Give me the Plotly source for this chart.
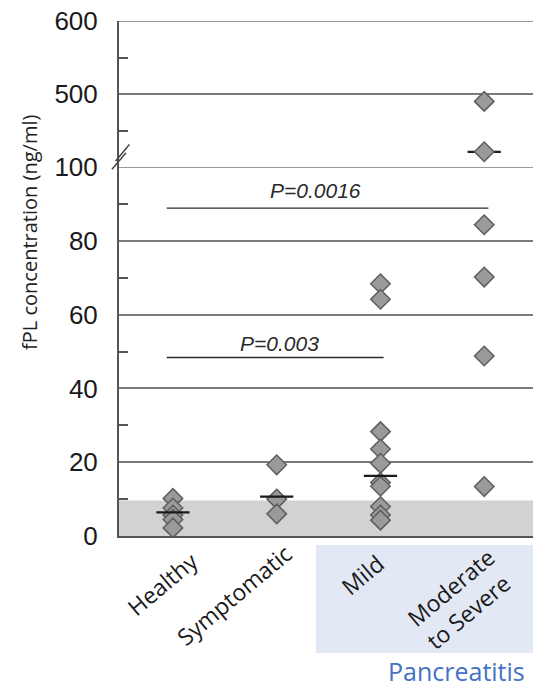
import plotly.graph_objects as go

# ---------------- data ----------------
categories = ["Healthy", "Symptomatic", "Mild", "Moderate<br>to Severe"]
healthy = [10.2, 7.6, 5.7, 4.5, 2.2]
symptomatic = [19.3, 10.0, 6.0]
mild = [68.4, 64.2, 28.3, 23.6, 19.7, 14.5, 13.5, 8.0, 5.7, 4.3]
moderate_low = [84.4, 70.2, 48.8, 13.4]
moderate_high = [490, 421]
medians_low = [6.4, 10.7, 16.3]
median_high = [421]
reference_upper = 9.6
p_labels = ["P=0.0016", "P=0.003"]
p_levels = [88.9, 48.4]
p_start = [-0.06, -0.06]
p_end = [3.04, 2.03]
p_text_x = [1.37, 1.03]
p_text_y = [93.8, 52.3]
low_ticks = [0, 20, 40, 60, 80, 100]
low_minor = [10, 30, 50, 70, 90]
high_ticks = [500, 600]
high_minor = [450, 550]
group_label = "Pancreatitis"
y_title = "fPL concentration (ng/ml)"

# ---------------- styles ----------------
DIAMOND = dict(symbol="diamond", size=15, color="#9a9a9a",
               line=dict(color="#5e5e5e", width=1.5))
GRID = "#7a7a7a"
AXIS = "#555555"
half = 0.16
dom_split = 0.7162

fig = go.Figure()

low_groups = [healthy, symptomatic, mild, moderate_low]
for i, vals in enumerate(low_groups):
    fig.add_trace(go.Scatter(x=[i] * len(vals), y=vals, mode="markers",
                             marker=DIAMOND, xaxis="x", yaxis="y",
                             showlegend=False, hoverinfo="y"))

# median bars
mx, my = [], []
for i, m in enumerate(medians_low):
    mx += [i - half, i + half, None]
    my += [m, m, None]
fig.add_trace(go.Scatter(x=mx, y=my, mode="lines",
                         line=dict(color="#1a1a1a", width=2.2),
                         xaxis="x", yaxis="y", showlegend=False,
                         hoverinfo="skip"))
hx, hy = [], []
for m in median_high:
    hx += [3 - half, 3 + half, None]
    hy += [m, m, None]
fig.add_trace(go.Scatter(x=hx, y=hy, mode="lines",
                         line=dict(color="#1a1a1a", width=2.2),
                         xaxis="x2", yaxis="y2", showlegend=False,
                         hoverinfo="skip"))
fig.add_trace(go.Scatter(x=[3] * len(moderate_high), y=moderate_high,
                         mode="markers", marker=DIAMOND, xaxis="x2",
                         yaxis="y2", showlegend=False, hoverinfo="y"))

# significance lines
for s, e, lvl in zip(p_start, p_end, p_levels):
    fig.add_trace(go.Scatter(x=[s, e], y=[lvl, lvl], mode="lines",
                             line=dict(color="#2a2a2a", width=1.3),
                             xaxis="x", yaxis="y", showlegend=False,
                             hoverinfo="skip"))

xr = [-0.52, 3.47]
tickfont = dict(family="Liberation Sans, Arial", size=26, color="#1a1a1a")

fig.update_layout(
    width=533, height=689,
    margin=dict(l=119, r=0, t=21, b=153),
    paper_bgcolor="white", plot_bgcolor="white",
    xaxis=dict(domain=[0, 1], range=xr, showticklabels=False, ticks="",
               showgrid=False, zeroline=False, showline=True,
               linecolor=AXIS, linewidth=2, anchor="y"),
    xaxis2=dict(domain=[0, 1], range=xr, showticklabels=False, ticks="",
                showgrid=False, zeroline=False, showline=False,
                anchor="y2", matches="x"),
    yaxis=dict(domain=[0, dom_split], range=[0, 100], tickvals=low_ticks,
               ticks="", showgrid=True, gridcolor=GRID, gridwidth=1.5,
               zeroline=False, showline=True, linecolor=AXIS, linewidth=2,
               tickfont=tickfont, ticklabelstandoff=14,
               minor=dict(tickvals=low_minor, ticks="inside", ticklen=9,
                          tickcolor=AXIS, tickwidth=1.5, showgrid=False),
               anchor="x"),
    yaxis2=dict(domain=[dom_split, 1], range=[400, 600], tickvals=high_ticks,
                ticks="", showgrid=True, gridcolor=GRID, gridwidth=1.5,
                zeroline=False, showline=True, linecolor=AXIS, linewidth=2,
                tickfont=tickfont, ticklabelstandoff=14,
                minor=dict(tickvals=high_minor, ticks="inside", ticklen=9,
                           tickcolor=AXIS, tickwidth=1.5, showgrid=False),
                anchor="x2"),
)

shapes = [
    dict(type="rect", xref="x domain", yref="y", x0=0, x1=1, y0=0,
         y1=reference_upper, fillcolor="#d2d2d2", line=dict(width=0),
         layer="below"),
    dict(type="line", xref="x domain", yref="y", x0=0, x1=1, y0=100, y1=100,
         line=dict(color=GRID, width=1.5)),
    dict(type="line", xref="x domain", yref="y2", x0=0, x1=1, y0=600, y1=600,
         line=dict(color=GRID, width=1.5)),
    dict(type="rect", xref="paper", yref="paper", x0=0.476, x1=1.0,
         y0=-0.227, y1=-0.0175, fillcolor="#e2e8f4", line=dict(width=0),
         layer="below"),
    dict(type="line", xref="paper", yref="paper", x0=-0.017, x1=0.017,
         y0=0.716 - 0.004, y1=0.716 + 0.028,
         line=dict(color="#444", width=1.5)),
    dict(type="line", xref="paper", yref="paper", x0=-0.008, x1=0.025,
         y0=0.716 + 0.012, y1=0.716 + 0.044,
         line=dict(color="#444", width=1.5)),
]
fig.update_layout(shapes=shapes)

annotations = []
for t, x, y in zip(p_labels, p_text_x, p_text_y):
    annotations.append(dict(x=x, y=y, xref="x", yref="y", text=f"<i>{t}</i>",
                            showarrow=False,
                            font=dict(family="Liberation Sans, Arial",
                                      size=21, color="#2a2a2a")))

label_pos = [(0.104, -0.093), (0.278, -0.115), (0.587, -0.075), (0.824, -0.122)]
for c, (px, py) in zip(categories, label_pos):
    annotations.append(dict(x=px, y=py, xref="paper", yref="paper", text=c,
                            showarrow=False, textangle=-40, align="left",
                            xanchor="center", yanchor="middle",
                            font=dict(family="Open Sans", size=23,
                                      color="#1a1a1a")))
annotations.append(dict(x=0.985, y=-0.262, xref="paper", yref="paper",
                        text=group_label, showarrow=False, xanchor="right",
                        yanchor="middle",
                        font=dict(family="Open Sans", size=25,
                                  color="#4472c4")))
annotations.append(dict(x=-0.218, y=0.59, xref="paper", yref="paper",
                        text=y_title, showarrow=False, textangle=-90,
                        xanchor="center", yanchor="middle",
                        font=dict(family="Open Sans", size=20,
                                  color="#222222")))
fig.update_layout(annotations=annotations)

fig.write_html("out.html")
